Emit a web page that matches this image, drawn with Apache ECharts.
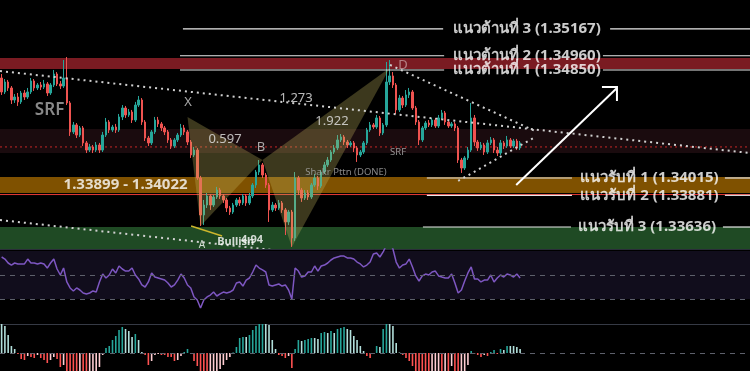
<!DOCTYPE html>
<html><head><meta charset="utf-8">
<script src="https://cdn.jsdelivr.net/npm/echarts@6/dist/echarts.min.js"></script>
<style>html,body{margin:0;padding:0;background:#000;}#c{width:750px;height:371px;}</style>
</head><body><div id="c"></div><script>
// ---------- DATA ----------
const SLOTS = 230; // candle slots on the time axis (last ones are empty future space)
const categories = Array.from({length: SLOTS}, (_, i) => 'bar' + i);

const opens = [1.34788,1.34680,1.34757,1.34711,1.34618,1.34641,1.34603,1.34672,1.34641,1.34680,
1.34765,1.34711,1.34734,1.34718,1.34742,1.34672,1.34734,1.34819,1.34742,1.34726,
1.34788,1.34595,1.34371,1.34425,1.34347,1.34402,1.34286,1.34231,1.34255,1.34231,
1.34270,1.34231,1.34347,1.34448,1.34386,1.34409,1.34386,1.34487,1.34556,1.34502,
1.34525,1.34463,1.34579,1.34618,1.34448,1.34324,1.34286,1.34371,1.34463,1.34433,
1.34402,1.34371,1.34309,1.34262,1.34309,1.34347,1.34402,1.34371,1.34293,1.34193,
1.34231,1.34015,1.33729,1.33806,1.33876,1.33806,1.33868,1.33922,1.33876,1.33845,
1.33783,1.33752,1.33806,1.33845,1.33822,1.33876,1.33822,1.33876,1.33961,1.34061,
1.34116,1.34038,1.33961,1.33768,1.33806,1.33783,1.33822,1.33768,1.33675,1.33752,
1.33551,1.34015,1.33922,1.33860,1.33899,1.33868,1.33961,1.34015,1.33953,1.34061,
1.34116,1.34154,1.34216,1.34247,1.34309,1.34332,1.34293,1.34270,1.34286,1.34247,
1.34193,1.34216,1.34286,1.34386,1.34425,1.34409,1.34479,1.34363,1.34425,1.34757,
1.34804,1.34734,1.34541,1.34633,1.34579,1.34657,1.34680,1.34556,1.34448,1.34309,
1.34402,1.34440,1.34425,1.34463,1.34417,1.34479,1.34518,1.34448,1.34417,1.34433,
1.34402,1.34154,1.34092,1.34170,1.34231,1.34479,1.34293,1.34247,1.34270,1.34216,
1.34286,1.34309,1.34231,1.34208,1.34286,1.34262,1.34309,1.34262,1.34301,1.34247];

const closes = [1.34680,1.34757,1.34711,1.34618,1.34641,1.34603,1.34672,1.34641,1.34680,1.34765,
1.34711,1.34734,1.34718,1.34742,1.34672,1.34734,1.34819,1.34742,1.34726,1.34788,
1.34595,1.34371,1.34425,1.34347,1.34402,1.34286,1.34231,1.34255,1.34231,1.34270,
1.34231,1.34347,1.34448,1.34386,1.34409,1.34386,1.34487,1.34556,1.34502,1.34525,
1.34463,1.34579,1.34618,1.34448,1.34324,1.34286,1.34371,1.34463,1.34433,1.34402,
1.34371,1.34309,1.34262,1.34309,1.34347,1.34402,1.34371,1.34293,1.34193,1.34231,
1.34015,1.33729,1.33806,1.33876,1.33806,1.33868,1.33922,1.33876,1.33845,1.33783,
1.33752,1.33806,1.33845,1.33822,1.33876,1.33822,1.33876,1.33961,1.34061,1.34116,
1.34038,1.33961,1.33768,1.33806,1.33783,1.33822,1.33768,1.33675,1.33752,1.33551,
1.34015,1.33922,1.33860,1.33899,1.33868,1.33961,1.34015,1.33953,1.34061,1.34116,
1.34154,1.34216,1.34247,1.34309,1.34332,1.34293,1.34270,1.34286,1.34247,1.34193,
1.34216,1.34286,1.34386,1.34425,1.34409,1.34479,1.34363,1.34425,1.34757,1.34804,
1.34734,1.34541,1.34633,1.34579,1.34657,1.34680,1.34556,1.34448,1.34309,1.34402,
1.34440,1.34425,1.34463,1.34417,1.34479,1.34518,1.34448,1.34417,1.34433,1.34402,
1.34154,1.34092,1.34170,1.34231,1.34479,1.34293,1.34247,1.34270,1.34216,1.34286,
1.34309,1.34231,1.34208,1.34286,1.34262,1.34309,1.34262,1.34301,1.34247,1.34286];

const highs = [1.34819,1.34780,1.34773,1.34726,1.34664,1.34672,1.34688,1.34695,1.34711,1.34788,
1.34780,1.34749,1.34757,1.34773,1.34757,1.34749,1.34850,1.34834,1.34765,1.34927,
1.34950,1.34610,1.34448,1.34440,1.34417,1.34417,1.34301,1.34278,1.34270,1.34293,
1.34286,1.34371,1.34479,1.34463,1.34425,1.34433,1.34510,1.34579,1.34572,1.34548,
1.34541,1.34603,1.34649,1.34633,1.34463,1.34340,1.34386,1.34487,1.34487,1.34448,
1.34417,1.34386,1.34324,1.34324,1.34363,1.34433,1.34425,1.34386,1.34309,1.34255,
1.34247,1.34031,1.33845,1.33899,1.33891,1.33884,1.33946,1.33938,1.33891,1.33860,
1.33799,1.33822,1.33860,1.33868,1.33891,1.33891,1.33899,1.33976,1.34077,1.34154,
1.34131,1.34054,1.33976,1.33830,1.33822,1.33845,1.33837,1.33783,1.33768,1.33768,
1.34061,1.34031,1.33938,1.33922,1.33922,1.33976,1.34046,1.34031,1.34077,1.34139,
1.34177,1.34231,1.34270,1.34347,1.34355,1.34347,1.34309,1.34301,1.34301,1.34262,
1.34231,1.34301,1.34402,1.34448,1.34440,1.34502,1.34494,1.34440,1.34912,1.34927,
1.34834,1.34749,1.34657,1.34649,1.34695,1.34711,1.34695,1.34572,1.34463,1.34417,
1.34456,1.34463,1.34479,1.34479,1.34502,1.34541,1.34533,1.34463,1.34448,1.34448,
1.34417,1.34170,1.34185,1.34255,1.34595,1.34502,1.34309,1.34293,1.34286,1.34309,
1.34332,1.34324,1.34255,1.34309,1.34301,1.34340,1.34324,1.34317,1.34317,1.34301];

const lows = [1.34657,1.34664,1.34688,1.34587,1.34595,1.34572,1.34587,1.34618,1.34626,1.34664,
1.34688,1.34695,1.34695,1.34703,1.34649,1.34657,1.34718,1.34726,1.34703,1.34711,
1.34579,1.34340,1.34355,1.34324,1.34332,1.34262,1.34208,1.34216,1.34208,1.34216,
1.34208,1.34216,1.34332,1.34363,1.34371,1.34363,1.34371,1.34463,1.34479,1.34487,
1.34440,1.34448,1.34564,1.34425,1.34301,1.34262,1.34270,1.34355,1.34409,1.34378,
1.34347,1.34286,1.34239,1.34247,1.34293,1.34332,1.34347,1.34270,1.34170,1.34177,
1.34000,1.33644,1.33652,1.33783,1.33768,1.33791,1.33853,1.33853,1.33822,1.33752,
1.33729,1.33737,1.33791,1.33799,1.33806,1.33799,1.33806,1.33860,1.33938,1.34038,
1.34015,1.33938,1.33675,1.33752,1.33760,1.33768,1.33745,1.33574,1.33652,1.33482,
1.33528,1.33884,1.33830,1.33845,1.33845,1.33853,1.33946,1.33922,1.33938,1.34046,
1.34100,1.34139,1.34201,1.34231,1.34293,1.34270,1.34247,1.34255,1.34216,1.34139,
1.34177,1.34201,1.34270,1.34371,1.34394,1.34394,1.34340,1.34347,1.34409,1.34734,
1.34711,1.34510,1.34525,1.34556,1.34564,1.34633,1.34541,1.34425,1.34270,1.34293,
1.34386,1.34409,1.34409,1.34402,1.34402,1.34463,1.34425,1.34402,1.34402,1.34378,
1.34131,1.34054,1.34077,1.34154,1.34216,1.34262,1.34224,1.34231,1.34193,1.34201,
1.34270,1.34208,1.34185,1.34193,1.34239,1.34247,1.34247,1.34247,1.34231,1.34231];

const rsi = [65,63.3,60,58.3,60,59.2,59.2,59.2,63.3,60,
60,59.2,60,59.2,55.8,60,63.3,55,50,55.8,
44.2,39.2,36.7,39.2,37.5,35,34.2,35,36.7,35.8,
44.2,50.8,47.5,50,55,51.7,57.5,55,53.3,53.3,
55.8,50,46.7,41.7,40,44.2,51.7,48.3,47.5,46.7,
45.8,43.3,40,41.7,45.8,50.8,47.5,41.7,39.2,31.7,
29.2,22.5,29.2,31.7,33.3,35.8,32.5,34.2,35.8,35,
35.8,37.5,43.3,44.2,40.8,45.8,47.5,52.5,58.3,55.8,
54.2,52.5,41.7,40.8,41.7,42.5,40.8,41.7,37.5,30,
55.8,53.3,48.3,49.2,52.5,52.5,57.5,53.3,57.5,58.3,
60,62.5,64.2,65,65.8,65.8,64.2,64.2,63.3,60.8,
59.2,56.7,58.3,60.8,67.5,68.3,65,69.2,75,77,
71.7,60.8,55.8,58.3,59.2,63.3,56.7,49.2,45,49.2,
50.8,50,52.5,53.3,49.2,48.3,47.5,47.5,50.8,43.3,
35,37.5,45,51.7,56.7,46.7,46.7,44.2,45.8,45.8,
50,44.2,47.5,50,48.3,50.8,50,48.3,50.8,47.5];

const hist = [30,27,18,7,4,-1,-6,-7,-3,-4,
-5,-2,-5,-7,-10,-7,-4,-6,-14,-12,
-20,-22,-24,-24,-23,-24,-25,-24,-23,-22,
-14,-2,5,7,13,17,23,26,24,22,
16,19,13,1,-2,-12,-8,-2,-1,-2,
-2,-4,-4,-8,-7,-3,1,4,-1,-8,
-13,-20,-24,-25,-24,-23,-22,-16,-12,-7,
-4,0.5,6,15,16,16,18,23,27,29,
30,30,28,13,4,-2,-3,-5,-3,-15,
4,13,12,13,14,15,15,14,20,21,
20,22,20,24,25,26,24,23,17,13,
7,2,-3,-5,-1,7,6,24,30,30,
27,10,0.5,-2,-5,-8,-13,-20,-22,-24,
-25,-25,-24,-23,-22,-22,-20,-21,-13,-20,
-24,-22,-20,-12,2,-1,-2,-4,-2,-3,
1,3,-1,4,3,7,7,7,6,4];

// price levels (support / resistance)
const levelPrices = [1.35167, 1.34960, 1.34850, 1.34015, 1.33881, 1.33636];
const levelTexts = ['แนวต้านที่ 3 (1.35167)','แนวต้านที่ 2 (1.34960)','แนวต้านที่ 1 (1.34850)',
                    'แนวรับที่ 1 (1.34015)','แนวรับที่ 2 (1.33881)','แนวรับที่ 3 (1.33636)'];
const levelFrom1 = [55.6, 54.7, 54.7, 130.4, 130.4, 129.2];
const levelTo1   = [135.4, 135.7, 135.7, 174.9, 174.9, 174.6];
const levelFrom2 = [186.6, 184.4, 184.4, 221.8, 221.8, 221.2];
const levelTo2   = [229.5, 229.5, 229.5, 229.5, 229.5, 229.5];
const levelTextAt = [161.0, 161.0, 161.0, 198.7, 198.7, 197.9];

// zones
const zoneTop    = [1.34943, 1.34394, 1.34022, 1.33636];
const zoneBottom = [1.34858, 1.34208, 1.33899, 1.33466];
const midDottedPrice = 1.34255;
const redLinePrice = 1.33887;

// shark pattern points X, A, B, C, D (bar index, price)
const patternIdx   = [57, 61, 80, 89, 119];
const patternPrice = [1.34487, 1.33644, 1.34154, 1.33482, 1.34865];

// dotted trend lines [bar1, price1, bar2, price2]
const trendFromIdx = [-0.5, -0.5, 119.1, 140.0];
const trendFromPx  = [1.34842, 1.33690, 1.34889, 1.33992];
const trendToIdx   = [229.5, 91.5, 163.6, 163.6];
const trendToPx    = [1.34208, 1.33435, 1.34378, 1.34332];

// arrow & small yellow line
const arrowFrom = [157.8, 1.33961], arrowTo = [188.7, 1.34711];
const yellowFrom = [58.1, 1.33644], yellowTo = [67.6, 1.33567];

// annotations text
const noteTexts = ['SRF','X','B','D','A','1.273','0.597','1.922','Shakr Pttn (DONE)','SRF','1.33899 - 1.34022','Bullish','4.94'];
const noteIdx   = [14.7, 57.2, 79.5, 123.1, 61.4, 90.3, 68.5, 101.3, 105.6, 121.6, 38.0, 71.8, 76.8];
const notePrice = [1.34541, 1.34603, 1.34255, 1.34889, 1.33497, 1.34633, 1.34317, 1.34456, 1.34061, 1.34216, 1.33961, 1.33520, 1.33536];
const noteKind  = ['srfBig','pt','pt','ptD','ptA','ratio','ratio','ratio','pattern','srfSmall','zone','bull','bull'];

// RSI reference lines
const rsiBand = [30, 70];
const rsiDashed = [50, 30];

// ---------- STYLES ----------
const FONT = "'Noto Sans', 'DejaVu Sans', 'Liberation Sans', sans-serif";
const zoneColors = ['#7a1b22', '#1a0b0e', '#7f5100', '#1f4a24'];
const noteStyles = {
  srfBig:  {color:'#aaaaaa', fontSize:17, fontWeight:600},
  pt:      {color:'#d0d0d0', fontSize:13},
  ptD:     {color:'rgba(255,255,255,0.55)', fontSize:13},
  ptA:     {color:'#ffffff', fontSize:10},
  ratio:   {color:'#e6e6e6', fontSize:13},
  pattern: {color:'#a9a9a9', fontSize:9.5},
  srfSmall:{color:'#b8b8b8', fontSize:9.5},
  zone:    {color:'#ffffff', fontSize:15, fontWeight:'bold'},
  bull:    {color:'#ffffff', fontSize:11, fontWeight:'bold'}
};

const chart = echarts.init(document.getElementById('c'), null, {renderer:'canvas'});

function segSeries(name, rows, style, z) {
  return {
    name, type:'custom', xAxisIndex:1, yAxisIndex:0, clip:true, silent:true, z,
    data: rows,
    renderItem(params, api) {
      const a = api.coord([api.value(0), api.value(1)]);
      const b = api.coord([api.value(2), api.value(3)]);
      return {type:'line', shape:{x1:a[0], y1:a[1], x2:b[0], y2:b[1]}, style: Object.assign({fill:null}, style)};
    }
  };
}

const levelRows = [];
levelPrices.forEach((p, k) => {
  levelRows.push([levelFrom1[k], p, levelTo1[k], p]);
  levelRows.push([levelFrom2[k], p, levelTo2[k], p]);
});
const trendRows = trendFromIdx.map((x, k) => [x, trendFromPx[k], trendToIdx[k], trendToPx[k]]);
const zoneRows = zoneTop.map((t, k) => [-0.5, t, SLOTS - 0.5, zoneBottom[k]]);
const P = patternIdx.map((x, k) => [x, patternPrice[k]]);
const triRows = [[...P[0], ...P[1], ...P[2]], [...P[2], ...P[3], ...P[4]]];

const noteData = noteTexts.map((t, k) => ({
  value:[noteIdx[k], notePrice[k]], name:t,
  label: Object.assign({show:true, position:'inside', formatter:t, fontFamily:FONT}, noteStyles[noteKind[k]])
}));
const levelLabelData = levelTexts.map((t, k) => ({
  value:[levelTextAt[k], levelPrices[k]], name:t,
  label:{show:true, position:'inside', formatter:t, fontFamily:FONT, color:'#ffffff', fontSize:15, fontWeight:'bold'}
}));

const candleData = closes.map((c, i) => [opens[i], c, lows[i], highs[i]]);

const option = {
  animation:false,
  backgroundColor:'#000000',
  grid:[
    {left:0, right:0, top:0, height:249},
    {left:0, right:0, top:249, height:75},
    {left:0, right:0, top:324, height:47}
  ],
  xAxis:[
    {type:'category', gridIndex:0, data:categories, boundaryGap:true,
     axisLine:{show:true, lineStyle:{color:'#2a2e39'}}, axisTick:{show:false}, axisLabel:{show:false}, splitLine:{show:false}},
    {type:'value', gridIndex:0, min:-0.5, max:SLOTS-0.5, show:false, position:'top'},
    {type:'category', gridIndex:1, data:categories, show:false},
    {type:'category', gridIndex:2, data:categories, position:'top',
     axisLine:{show:true, onZero:false, lineStyle:{color:'#363a45'}}, axisTick:{show:false}, axisLabel:{show:false}}
  ],
  yAxis:[
    {type:'value', gridIndex:0, min:1.33466, max:1.35391, show:false, splitLine:{show:false}},
    {type:'value', gridIndex:1, min:9.1667, max:71.6667, show:false, splitLine:{show:false}},
    {type:'value', gridIndex:2, min:-18, max:29, show:false, splitLine:{show:false}}
  ],
  series:[
    { name:'zones', type:'custom', xAxisIndex:1, yAxisIndex:0, clip:true, silent:true, z:1,
      data: zoneRows,
      renderItem(params, api) {
        const a = api.coord([api.value(0), api.value(1)]);
        const b = api.coord([api.value(2), api.value(3)]);
        return {type:'rect', shape:{x:a[0], y:a[1], width:b[0]-a[0], height:b[1]-a[1]},
                style:{fill: zoneColors[params.dataIndex]}};
      }
    },
    segSeries('midDotted', [[-0.5, midDottedPrice, SLOTS-0.5, midDottedPrice]], {stroke:'#c62828', lineWidth:1, lineDash:[2,3]}, 1.5),
    segSeries('redLine', [[-0.5, redLinePrice, SLOTS-0.5, redLinePrice]], {stroke:'#e53935', lineWidth:1}, 1.5),
    { name:'price', type:'candlestick', xAxisIndex:0, yAxisIndex:0, z:2, barWidth:2,
      data: candleData,
      itemStyle:{color:'#26a69a', color0:'#ef5350', borderColor:'#26a69a', borderColor0:'#ef5350', borderWidth:1}
    },
    { name:'pattern', type:'custom', xAxisIndex:1, yAxisIndex:0, clip:true, silent:true, z:3,
      data: triRows,
      renderItem(params, api) {
        const pts = [0,2,4].map(j => api.coord([api.value(j), api.value(j+1)]));
        return {type:'polygon', shape:{points:pts}, style:{fill:'rgba(200,185,95,0.3)'}};
      }
    },
    segSeries('levels', levelRows, {stroke:'#e8e8e8', lineWidth:1.2}, 4),
    segSeries('trends', trendRows, {stroke:'#d0d0d0', lineWidth:2, lineDash:[2,4]}, 4),
    segSeries('yellow', [[yellowFrom[0], yellowFrom[1], yellowTo[0], yellowTo[1]]], {stroke:'#cbb52c', lineWidth:1.5}, 4),
    { name:'arrow', type:'custom', xAxisIndex:1, yAxisIndex:0, clip:false, silent:true, z:4,
      data:[[arrowFrom[0], arrowFrom[1], arrowTo[0], arrowTo[1]]],
      renderItem(params, api) {
        const a = api.coord([api.value(0), api.value(1)]);
        const b = api.coord([api.value(2), api.value(3)]);
        const st = {stroke:'#ffffff', lineWidth:2, fill:null};
        return {type:'group', children:[
          {type:'line', shape:{x1:a[0], y1:a[1], x2:b[0], y2:b[1]}, style:st},
          {type:'polyline', shape:{points:[[b[0]-15, b[1]-1],[b[0], b[1]-1],[b[0], b[1]+13]]}, style:st}
        ]};
      }
    },
    { name:'notes', type:'scatter', xAxisIndex:1, yAxisIndex:0, symbolSize:0, silent:true, z:6, data: noteData },
    { name:'levelLabels', type:'scatter', xAxisIndex:1, yAxisIndex:0, symbolSize:0, silent:true, z:6, data: levelLabelData },
    { name:'RSI', type:'line', xAxisIndex:2, yAxisIndex:1, data: rsi, showSymbol:false, symbol:'none',
      lineStyle:{color:'#7e57c2', width:1.5}, z:3,
      markArea:{silent:true, itemStyle:{color:'#110d1c'}, data:[[{yAxis:rsiBand[0]},{yAxis:rsiBand[1]}]]},
      markLine:{silent:true, symbol:'none', label:{show:false},
        lineStyle:{color:'#5d606b', type:[5,5], width:1}, data: rsiDashed.map(v => ({yAxis:v}))}
    },
    { name:'MACD', type:'bar', xAxisIndex:3, yAxisIndex:2, data: hist, barWidth:1.6,
      itemStyle:{color(p){ const i=p.dataIndex, v=hist[i], pv=i>0?hist[i-1]:v;
        if (v >= 0) return pv < v ? '#26a69a' : '#b2dfdb';
        return pv < v ? '#ffcdd2' : '#ff5252'; }},
      markLine:{silent:true, symbol:'none', label:{show:false},
        lineStyle:{color:'#5d606b', type:[5,5], width:1}, data:[{yAxis:0}]}
    }
  ]
};
chart.setOption(option);
</script></body></html>
